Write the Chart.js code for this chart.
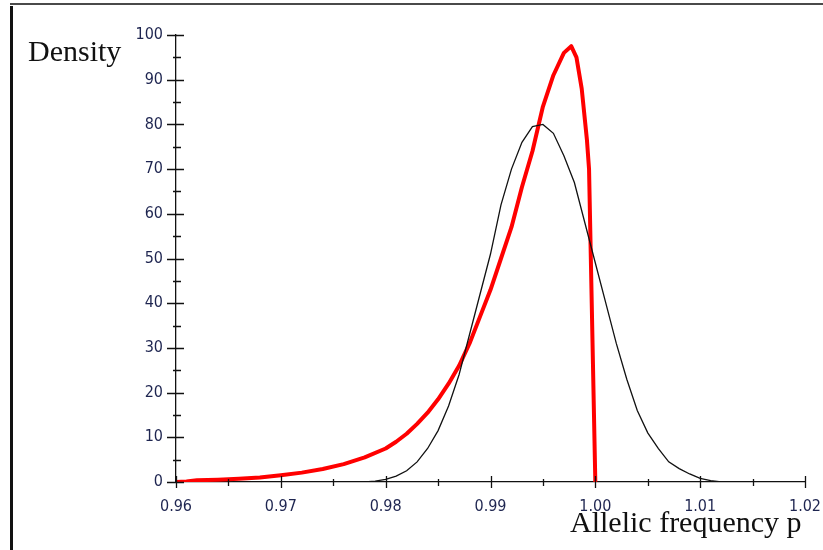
<!DOCTYPE html>
<html>
<head>
<meta charset="utf-8">
<script src="https://cdn.jsdelivr.net/npm/chart.js@4.4.1/dist/chart.umd.min.js"></script>
<style>
  html, body { margin: 0; padding: 0; background: #fff; }
  #wrap { position: relative; width: 823px; height: 550px; overflow: hidden; }
  #frameTop { position: absolute; left: 10px; top: 3px; width: 813px; height: 2px; background: #4a4a4a; }
  #frameLeft { position: absolute; left: 10px; top: 6px; width: 3px; height: 544px; background: #111; }
  .axtitle { position: absolute; font-family: "Liberation Serif", "DejaVu Serif", serif; font-size: 30px; line-height: 1; color: #111; white-space: nowrap; }
  #ytitle { left: 28px; top: 36px; }
  #xtitle { left: 570px; top: 507px; }
</style>
</head>
<body>
<div id="wrap">
  <canvas id="myChart" width="823" height="550"></canvas>
  <div id="frameTop"></div>
  <div id="frameLeft"></div>
  <div class="axtitle" id="ytitle">Density</div>
  <div class="axtitle" id="xtitle">Allelic frequency p</div>
</div>
<script>
// Red curve (thick)
const redX = [0.960, 0.961, 0.962, 0.964, 0.966, 0.968, 0.970, 0.972, 0.974, 0.976, 0.978, 0.980,
  0.981, 0.982, 0.983, 0.984, 0.985, 0.986, 0.987, 0.988, 0.989, 0.990, 0.991, 0.992, 0.993,
  0.994, 0.995, 0.996, 0.997, 0.9977, 0.9982, 0.9987, 0.9992, 0.9994, 1.000];
const redY = [0, 0.1, 0.4, 0.5, 0.7, 1.0, 1.5, 2.1, 2.9, 4.0, 5.5, 7.5,
  9.0, 10.8, 13.0, 15.5, 18.5, 22, 26, 31, 37, 43, 50, 57, 66,
  74, 84, 91, 96, 97.5, 95, 88, 76.5, 70, 0];

// Black curve (thin)
const blackX = [0.978, 0.979, 0.980, 0.981, 0.982, 0.983, 0.984, 0.985, 0.986, 0.987, 0.988, 0.989,
  0.990, 0.991, 0.992, 0.993, 0.994, 0.995, 0.996, 0.997, 0.998, 0.999, 1.000, 1.001, 1.002,
  1.003, 1.004, 1.005, 1.006, 1.007, 1.008, 1.009, 1.010, 1.011, 1.012];
const blackY = [0, 0.2, 0.6, 1.3, 2.5, 4.5, 7.5, 11.5, 17, 24, 33, 42,
  51, 62, 70, 76, 79.5, 80, 78, 73, 67, 58, 49, 40, 31,
  23, 16, 11, 7.5, 4.5, 3, 1.8, 0.8, 0.3, 0];

// Axis ranges / tick steps
const xMin = 0.96, xMax = 1.02, xStep = 0.005;
const yMin = 0, yMax = 100, yStep = 5;

const labelFont = { family: '"DejaVu Sans Condensed", "DejaVu Sans", sans-serif', size: 16 };
const labelColor = '#1e2550';

function toPoints(xs, ys) {
  return xs.map((x, i) => ({ x: x, y: ys[i] }));
}

// Draws the little tick marks that cross the axis lines
const crossTicks = {
  id: 'crossTicks',
  afterDraw(chart) {
    const ctx = chart.ctx;
    const xs = chart.scales.x, ys = chart.scales.y;
    const area = chart.chartArea;
    ctx.save();
    ctx.strokeStyle = '#111';
    ctx.lineWidth = 1.3;
    ctx.beginPath();
    xs.ticks.forEach(t => {
      const px = Math.round(xs.getPixelForValue(t.value)) + 0.5;
      const major = Math.round(t.value * 1000) % 10 === 0;
      const up = major ? 6 : 3, down = major ? 6 : 4;
      ctx.moveTo(px, area.bottom - up);
      ctx.lineTo(px, area.bottom + down);
    });
    ys.ticks.forEach(t => {
      const py = Math.round(ys.getPixelForValue(t.value)) + 0.5;
      const major = Math.round(t.value) % 10 === 0;
      const l = major ? 9 : 3, r = major ? 8 : 5;
      ctx.moveTo(area.left - l, py);
      ctx.lineTo(area.left + r, py);
    });
    ctx.stroke();
    ctx.restore();
  }
};

new Chart(document.getElementById('myChart').getContext('2d'), {
  type: 'line',
  data: {
    datasets: [
      {
        label: 'black',
        data: toPoints(blackX, blackY),
        borderColor: '#111',
        borderWidth: 1.3,
        pointRadius: 0,
        tension: 0,
        fill: false
      },
      {
        label: 'red',
        data: toPoints(redX, redY),
        borderColor: '#ff0000',
        borderWidth: 4,
        pointRadius: 0,
        tension: 0,
        fill: false,
        borderJoinStyle: 'round'
      }
    ]
  },
  options: {
    responsive: false,
    animation: false,
    events: [],
    layout: { padding: { left: 0, right: 18, top: 35, bottom: 0 } },
    plugins: {
      legend: { display: false },
      tooltip: { enabled: false },
      title: { display: false }
    },
    scales: {
      x: {
        type: 'linear',
        min: xMin,
        max: xMax,
        grid: { display: false, drawTicks: false },
        border: { display: true, color: '#111', width: 1.3 },
        ticks: {
          stepSize: xStep,
          autoSkip: false,
          maxRotation: 0,
          padding: 15,
          color: labelColor,
          font: labelFont,
          callback: v => (Math.round(v * 1000) % 10 === 0 ? v.toFixed(2) : '')
        },
        afterFit: s => { s.height = 68; s.paddingLeft = 0; s.paddingRight = 0; }
      },
      y: {
        min: yMin,
        max: yMax,
        grid: { display: false, drawTicks: false },
        border: { display: true, color: '#111', width: 1.3 },
        ticks: {
          stepSize: yStep,
          autoSkip: false,
          padding: 13,
          color: labelColor,
          font: labelFont,
          callback: v => (Math.round(v) % 10 === 0 ? String(v) : '')
        },
        afterFit: s => { s.width = 176; s.paddingTop = 0; s.paddingBottom = 0; }
      }
    }
  },
  plugins: [crossTicks]
});
</script>
</body>
</html>
